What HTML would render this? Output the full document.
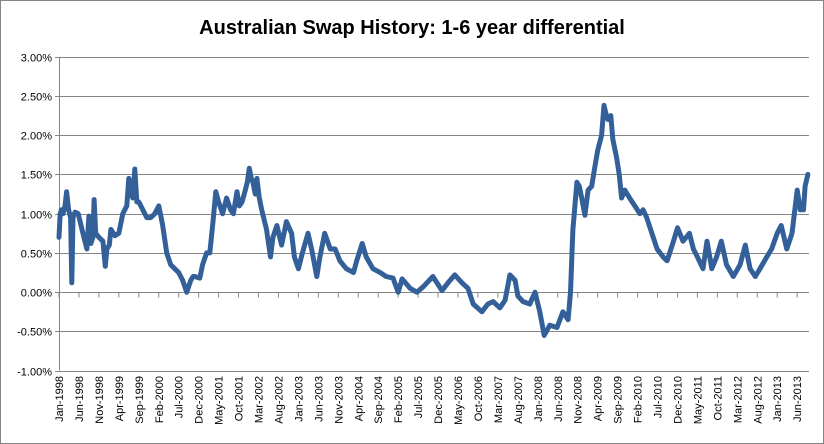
<!DOCTYPE html>
<html><head><meta charset="utf-8"><style>
html,body{margin:0;padding:0;background:#fff;}
svg{display:block;font-family:"Liberation Sans",sans-serif;}
</style></head><body>
<svg id="chart" width="824" height="444" viewBox="0 0 824 444">
<rect x="0.5" y="0.5" width="823" height="443" fill="#fff" stroke="#868686"/>
<text x="412" y="34" text-anchor="middle" font-size="20" font-weight="bold" fill="#000">Australian Swap History: 1-6 year differential</text>
<g id="grid"></g><g id="yticks"></g><g id="xticks"></g><g id="series"></g>
</svg>
<script>
const yTicks=[3,2.5,2,1.5,1,0.5,0,-0.5,-1];
const yTickLabels=["3.00%","2.50%","2.00%","1.50%","1.00%","0.50%","0.00%","-0.50%","-1.00%"];
const xTickLabels=["Jan-1998","Jun-1998","Nov-1998","Apr-1999","Sep-1999","Feb-2000","Jul-2000","Dec-2000","May-2001","Oct-2001","Mar-2002","Aug-2002","Jan-2003","Jun-2003","Nov-2003","Apr-2004","Sep-2004","Feb-2005","Jul-2005","Dec-2005","May-2006","Oct-2006","Mar-2007","Aug-2007","Jan-2008","Jun-2008","Nov-2008","Apr-2009","Sep-2009","Feb-2010","Jul-2010","Dec-2010","May-2011","Oct-2011","Mar-2012","Aug-2012","Jan-2013","Jun-2013"];
const months=[0,0.3,0.6,1,1.5,1.9,2.4,2.9,3.2,3.5,4,4.8,5.3,6,7,7.5,8,8.5,8.8,9.2,10,11,11.6,12,12.6,13,14,15,16,17,17.5,18,18.5,19,19.5,20,21,22,23,24,25,26,27,28,29,30,31,32,33,33.6,34,35.3,36,37,37.8,38.6,39.3,40,41,42,43,43.7,44.6,45.2,45.9,46.7,47.2,47.7,48.2,48.6,49.2,49.6,50.2,50.8,52,53,53.6,54.6,55.8,57,58.3,59,60,61,62.4,63.3,64.6,65.4,66.6,68,69.2,70.4,72,73.8,74.6,76,77,78.7,80.5,82,83.7,85,86,88,89.7,91.3,93.7,96,97.5,99.2,101,102.5,103.8,106,107.5,108.8,110.5,111.8,113,114.3,115,116.3,118,119.3,120.5,121.6,123,124.8,126.3,127.6,128.2,128.8,129.3,129.8,130.4,131,131.8,132.6,133.5,134.3,135,136,136.6,137.2,137.6,138.3,138.8,139.8,140.4,141,141.8,143,144.3,145.6,146.4,147.3,148.6,149.9,151.4,152.4,154,155,156.4,158,159,160,161.4,162.4,163.6,164.8,166,167.3,169,170.7,172,173.2,174.5,175.7,177.4,178.6,180,181,182.4,183.7,185,185.8,186.6,187,187.7];
const values=[0.70,1.00,1.05,1.00,1.10,1.28,1.05,0.95,0.12,0.95,1.02,1.00,0.90,0.75,0.55,0.97,0.62,0.70,1.18,0.75,0.70,0.65,0.33,0.55,0.60,0.80,0.72,0.75,1.00,1.10,1.45,1.30,1.20,1.57,1.15,1.15,1.05,0.95,0.95,1.00,1.10,0.85,0.50,0.35,0.30,0.25,0.15,0.00,0.15,0.20,0.20,0.18,0.35,0.50,0.50,0.90,1.28,1.15,1.00,1.20,1.05,1.00,1.28,1.10,1.15,1.30,1.40,1.58,1.45,1.40,1.25,1.45,1.20,1.05,0.80,0.45,0.70,0.85,0.60,0.90,0.75,0.45,0.30,0.50,0.75,0.55,0.20,0.45,0.75,0.55,0.55,0.40,0.30,0.25,0.40,0.62,0.45,0.30,0.25,0.20,0.18,0.00,0.17,0.05,0.00,0.07,0.20,0.02,0.12,0.22,0.12,0.05,-0.15,-0.25,-0.15,-0.12,-0.20,-0.10,0.22,0.15,-0.05,-0.12,-0.15,0.00,-0.25,-0.55,-0.42,-0.45,-0.25,-0.35,0.00,0.80,1.10,1.40,1.35,1.20,0.98,1.30,1.35,1.60,1.80,2.00,2.38,2.25,2.20,2.25,1.95,1.70,1.50,1.20,1.30,1.20,1.10,1.00,1.05,0.95,0.75,0.55,0.45,0.40,0.65,0.82,0.65,0.75,0.55,0.45,0.30,0.65,0.30,0.45,0.65,0.35,0.20,0.35,0.60,0.30,0.20,0.30,0.45,0.55,0.75,0.85,0.55,0.75,1.30,1.05,1.05,1.35,1.50];
const X0=59, PXM=3.99, Y3=56.7, PXV=78.5;
function xScale(m){return X0+m*PXM;}
function yScale(v){return Y3+(3-v)*PXV;}
const NS="http://www.w3.org/2000/svg";
function mk(tag,parent,attrs){const e=document.createElementNS(NS,tag);for(const k in attrs)e.setAttribute(k,attrs[k]);parent.appendChild(e);return e;}
const grid=document.getElementById('grid'),yt=document.getElementById('yticks'),xt=document.getElementById('xticks'),ser=document.getElementById('series');
yTicks.forEach((v,i)=>{
  const y=Math.round(yScale(v))+0.5;
  const l=mk('line',grid,{x1:X0-4,x2:809,y1:y,y2:y,stroke:'#868686','stroke-width':1});
  
  
  const t=mk('text',yt,{x:52,y:y+4,'text-anchor':'end','font-size':11,fill:'#000'});
  t.textContent=yTickLabels[i];
  
  
});
const ax=mk('line',grid,{x1:X0+0.5,x2:X0+0.5,y1:Y3,y2:yScale(-1),stroke:'#868686','stroke-width':1});


const zy=Math.round(yScale(0))+0.5;
xTickLabels.forEach((lab,i)=>{
  const x=xScale(i*5);
  const tk=mk('line',xt,{x1:x,x2:x,y1:zy,y2:zy+5,stroke:'#868686','stroke-width':1});
  
  
  const t=mk('text',xt,{x:0,y:0,'text-anchor':'end','font-size':11,fill:'#000',transform:`translate(${x+4},376) rotate(-90)`});
  t.textContent=lab;
  
  
});
const pts=months.map((m,i)=>xScale(m).toFixed(1)+','+yScale(values[i]).toFixed(1)).join(' ');
const pl=mk('polyline',ser,{points:pts,fill:'none',stroke:'#34609A','stroke-width':5,'stroke-linejoin':'round','stroke-linecap':'round'});


</script>
</body></html>
